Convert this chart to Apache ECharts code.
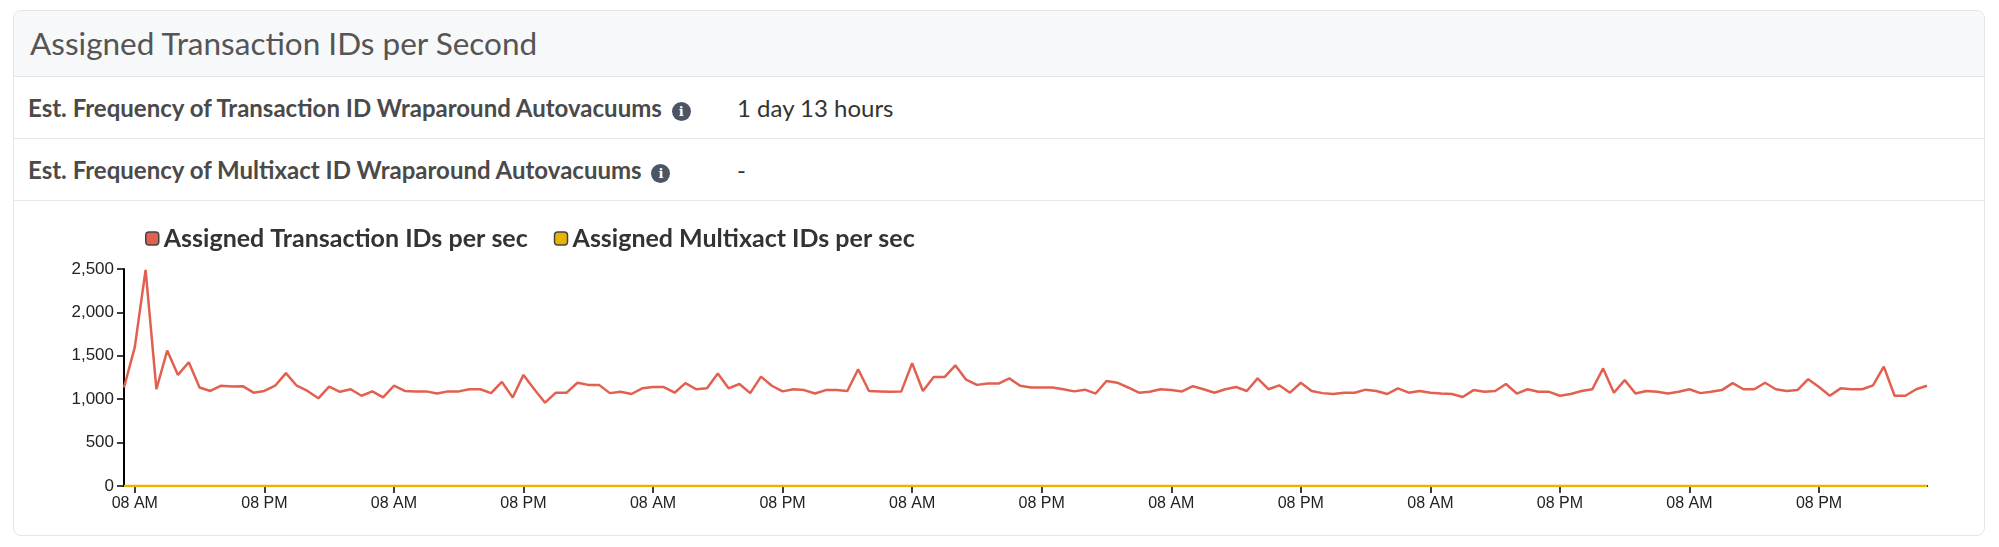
<!DOCTYPE html>
<html>
<head>
<meta charset="utf-8">
<title>Assigned Transaction IDs per Second</title>
<script src="https://cdn.jsdelivr.net/npm/echarts@6/dist/echarts.min.js"></script>
<style>
	body{margin:0;background:#fff;font-family:Lato,"Open Sans",sans-serif;}
	.card{position:absolute;left:13px;top:10px;width:1970px;height:524px;border:1px solid #e3e6ea;border-radius:8px;overflow:hidden;}
	.head{height:65px;background:#f7f8fa;border-bottom:1px solid #e3e6ea;font-size:31.5px;color:#555;line-height:64px;padding-left:16px;font-weight:400;}
	.row{height:61px;border-bottom:1px solid #e6e8eb;line-height:61px;font-size:24px;color:#444;position:relative;}
	.row .k{position:absolute;left:14px;font-weight:700;color:#4a4a4a;}
	.row .v{position:absolute;left:723px;color:#333;}
	.info{display:inline-block;width:19px;height:19px;border-radius:50%;background:#4b5566;color:#fff;font-size:13px;line-height:19px;text-align:center;font-weight:900;vertical-align:1px;margin-left:4px;font-family:"DejaVu Serif",serif;}
	#main{position:absolute;left:0;top:200px;width:1999px;height:335px;}
</style>
</head>
<body>
<div class="card">
	<div class="head">Assigned Transaction IDs per Second</div>
	<div class="row"><span class="k">Est. Frequency of Transaction ID Wraparound Autovacuums <span class="info">i</span></span><span class="v">1 day 13 hours</span></div>
	<div class="row"><span class="k">Est. Frequency of Multixact ID Wraparound Autovacuums <span class="info">i</span></span><span class="v">-</span></div>
</div>
<div id="main"></div>
<script type="text/javascript">
	// hourly samples, first one at 07:00
	var startHour=7;
	var xactValues=[
		1135,1600,2490,1115,1560,1280,1425,1135,1095,1155,1145,1150,1075,1095,1155,1300,1155,1095,1010,1145,
		1085,1115,1040,1090,1020,1155,1095,1090,1090,1065,1090,1090,1115,1115,1070,1200,1020,1280,1115,960,
		1075,1075,1190,1165,1165,1070,1085,1060,1125,1140,1140,1075,1185,1115,
		1125,1295,1125,1175,1070,1260,1155,1090,1115,1105,1065,1105,1105,1095,1345,1095,1090,1085,1090,1415,
		1095,1255,1255,1390,1225,1165,1180,1180,1240,1155,1135,1135,1135,1115,1090,1110,1065,1210,1190,1135,
		1075,1085,1115,1105,1090,1150,1115,1075,1115,1140,1095,1240,1115,1160,1075,1190,1095,1070,1060,1075,
		1075,1110,1095,1060,
		1125,1075,1095,1075,1065,1060,1025,1105,1085,1095,1175,1065,1115,1085,1085,1040,1060,1095,1115,1355,
		1075,1220,1065,1095,1085,1065,1085,1115,1070,1085,1105,1185,1115,1115,1190,1115,1095,1105,1230,1140,
		1040,1125,1115,1115,1160,1375,1040,1040,1115,1155
	];
	var multiValues=xactValues.map(function(){return 0;});
	var hours=xactValues.map(function(v,i){return String((startHour+i)%24);});
	var tickHours=[8,20];

	function isTick(i,h){
		return tickHours.indexOf(Number(h))>=0;
	}

	var myChart=echarts.init(document.getElementById('main'));
	var option={
		animation:false,
		textStyle:{fontFamily:'"Liberation Sans",Arial,sans-serif'},
		legend:{
			left:140,
			top:21,
			itemWidth:13,
			itemHeight:13,
			itemGap:26,
			icon:'roundRect',
			textStyle:{fontSize:25,fontWeight:'bold',color:'#333',fontFamily:'Lato,sans-serif'},
			data:[
				{name:'Assigned Transaction IDs per sec',itemStyle:{color:'#e2604f',borderColor:'#444',borderWidth:1.5}},
				{name:'Assigned Multixact IDs per sec',itemStyle:{color:'#e8b400',borderColor:'#444',borderWidth:1.5}}
			]
		},
		grid:{left:124,right:72,top:69,bottom:49},
		xAxis:{
			type:'category',
			boundaryGap:false,
			data:hours,
			axisLine:{lineStyle:{color:'#000',width:2}},
			axisTick:{
				length:7,
				lineStyle:{color:'#000',width:1.5},
				interval:isTick
			},
			axisLabel:{
				color:'#222',
				fontSize:16,
				margin:10,
				interval:isTick,
				formatter:function(h){return Number(h)===8?'08 AM':'08 PM';}
			}
		},
		yAxis:{
			type:'value',
			min:0,
			max:2500,
			interval:500,
			axisLine:{show:true,lineStyle:{color:'#000',width:2}},
			axisTick:{show:true,length:7,lineStyle:{color:'#000',width:1.5}},
			splitLine:{show:false},
			axisLabel:{
				color:'#222',
				fontSize:17,
				margin:10,
				formatter:function(v){return v.toLocaleString('en-US');}
			}
		},
		series:[
			{
				name:'Assigned Transaction IDs per sec',
				type:'line',
				data:xactValues,
				showSymbol:false,
				lineStyle:{color:'#e2604f',width:2.5},
				itemStyle:{color:'#e2604f'}
			},
			{
				name:'Assigned Multixact IDs per sec',
				type:'line',
				data:multiValues,
				showSymbol:false,
				lineStyle:{color:'#e8b400',width:2.5},
				itemStyle:{color:'#e8b400'},
				z:1
			}
		]
	};
	myChart.setOption(option);
</script>
</body>
</html>
